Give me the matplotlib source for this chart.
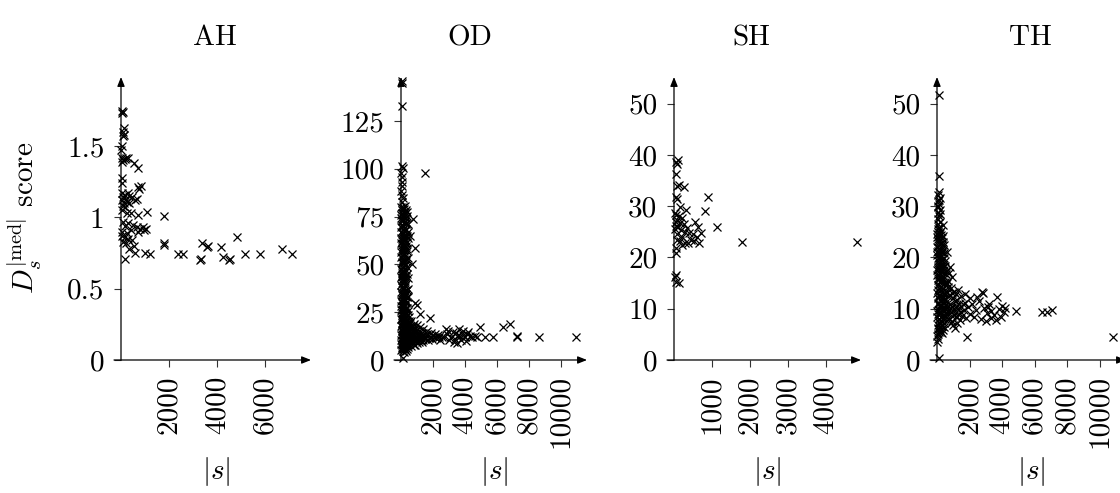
import numpy as np
import matplotlib
matplotlib.use('Agg')
import matplotlib.pyplot as plt

plt.rcParams['font.family'] = 'cmr10'
plt.rcParams['mathtext.fontset'] = 'cm'
plt.rcParams['axes.unicode_minus'] = False
plt.rcParams['axes.formatter.use_mathtext'] = True

# --- data (|s|, score) ---
ah_points = [
    (30, 1.75), (50, 1.73), (70, 1.74), (110, 1.63), (90, 1.60), (130, 1.58), (70, 1.57),
    (40, 1.50), (20, 1.47), (40, 1.42), (100, 1.40), (160, 1.41), (220, 1.42), (290, 1.42),
    (60, 1.39), (540, 1.38), (720, 1.35), (60, 1.28), (30, 1.24), (820, 1.22), (760, 1.20),
    (720, 1.21), (60, 1.17), (150, 1.16), (280, 1.17), (330, 1.15), (100, 1.14), (200, 1.13),
    (450, 1.14), (680, 1.13), (40, 1.12), (250, 1.11), (120, 1.10), (350, 1.10), (80, 1.08),
    (180, 1.07), (600, 1.12), (1100, 1.04), (420, 1.03), (700, 1.02), (1790, 1.01), (60, 1.05),
    (250, 1.03), (100, 0.97), (300, 0.96), (500, 0.95), (650, 0.93), (800, 0.92), (900, 0.93),
    (1050, 0.92), (150, 0.94), (400, 0.91), (60, 0.90), (700, 0.90), (950, 0.91), (250, 0.89),
    (50, 0.87), (150, 0.86), (300, 0.85), (450, 0.84), (80, 0.83), (200, 0.82), (550, 0.80),
    (350, 0.78), (1790, 0.82), (1780, 0.81), (170, 0.71), (600, 0.75), (1000, 0.75),
    (1200, 0.74), (2350, 0.74), (2580, 0.74), (3300, 0.70), (3320, 0.71), (3380, 0.82),
    (3600, 0.80), (3580, 0.79), (4160, 0.79), (4230, 0.72), (4480, 0.70), (4520, 0.71),
    (4820, 0.86), (5150, 0.74), (5800, 0.74), (6700, 0.78), (7100, 0.74),
]

od_upper = [
    (60, 146), (40, 145), (80, 133), (50, 101.5), (110, 100.5), (30, 98), (70, 95.5), (40, 93),
    (90, 91), (30, 88.5), (60, 86.5), (100, 84.5), (40, 82.5), (1500, 98), (750, 74), (560, 65),
    (875, 58.5), (670, 50), (875, 30), (1000, 29), (1190, 24), (1810, 22), (130, 1.0),
]
od_column = [
    (20, 80.2), (160, 79.1), (300, 78.3), (70, 77.0), (230, 76.2), (380, 75.4), (10, 74.1),
    (130, 73.3), (270, 72.0), (420, 71.2), (60, 70.4), (200, 69.1), (340, 68.5), (30, 67.2),
    (150, 66.1), (290, 65.3), (440, 64.0), (90, 63.2), (240, 62.5), (20, 61.1), (170, 60.4),
    (320, 59.6), (60, 58.2), (210, 57.5), (400, 56.8), (110, 55.3), (260, 54.6), (10, 53.9),
    (160, 52.7), (330, 51.8), (70, 50.9), (220, 49.6), (380, 48.7), (30, 47.8), (140, 46.5),
    (280, 45.9), (90, 44.6), (230, 43.5), (420, 42.8), (40, 41.6), (180, 40.9), (310, 39.7),
    (80, 38.4), (210, 37.6), (360, 36.5), (20, 35.8), (150, 34.6), (270, 33.5), (460, 32.7),
    (70, 31.9), (200, 30.6), (340, 29.8), (30, 28.5), (120, 27.7), (250, 26.9), (420, 25.8),
    (60, 24.6), (180, 23.9), (330, 23.1), (500, 22.4), (10, 21.5), (140, 20.8), (280, 19.9),
    (450, 19.2), (90, 18.5), (220, 17.6), (380, 16.9), (560, 16.3), (40, 15.4), (170, 14.8),
    (310, 13.9), (480, 13.3), (100, 12.6), (250, 11.8), (420, 11.2), (20, 10.4), (190, 9.7),
    (350, 9.1), (520, 8.6), (70, 7.9), (260, 7.2), (430, 6.6), (130, 5.9), (30, 5.3),
    (300, 4.8), (200, 4.2),
]
od_column_fill = [
    (110, 79.8), (350, 77.6), (180, 74.8), (40, 72.7), (310, 70.9), (120, 68.0), (410, 66.7),
    (200, 64.8), (50, 62.0), (360, 61.8), (120, 59.1), (280, 58.0), (30, 56.3), (190, 55.9),
    (420, 53.4), (100, 52.1), (260, 50.4), (150, 48.2), (40, 45.3), (330, 44.1), (120, 42.3),
    (260, 41.2), (10, 39.2), (160, 38.0), (420, 37.3), (90, 35.1), (310, 34.3), (230, 32.0),
    (20, 30.9), (390, 30.3), (170, 28.8), (300, 27.4), (80, 26.3), (230, 25.1), (440, 23.7),
    (110, 22.8), (260, 22.0), (380, 20.4), (50, 19.6), (200, 18.9), (320, 17.9), (500, 17.4),
    (130, 16.5), (280, 15.9), (440, 14.9), (60, 13.8), (220, 13.1), (390, 12.2), (560, 11.9),
    (140, 11.0), (300, 10.3), (470, 9.9), (60, 9.0), (230, 8.4), (390, 7.8), (160, 7.0),
    (40, 6.4), (250, 5.6),
]
od_column_dense = [
    (240, 80.7), (60, 78.6), (260, 77.3), (130, 76.0), (10, 75.6), (300, 74.5), (90, 73.9),
    (220, 72.5), (340, 71.7), (150, 70.0), (20, 69.3), (260, 67.7), (80, 66.5), (370, 65.0),
    (180, 63.7), (10, 63.9), (290, 61.4), (110, 60.9), (240, 59.2), (360, 57.8), (80, 57.0),
    (140, 54.2), (310, 53.0), (40, 51.4), (200, 51.0), (110, 49.3), (310, 47.2), (60, 46.8),
    (200, 45.4), (370, 44.8), (10, 43.6), (150, 43.9), (280, 42.1), (70, 40.2), (230, 39.0),
    (120, 37.0), (270, 36.0), (50, 34.2), (200, 33.8), (380, 33.0), (130, 31.3), (280, 31.0),
    (60, 29.6), (230, 28.2), (350, 27.0), (10, 26.4), (160, 25.9), (300, 24.8), (90, 23.6),
    (220, 23.4), (40, 22.1), (180, 21.4), (330, 21.0), (470, 20.6), (120, 19.8), (250, 19.0),
    (20, 17.8), (150, 17.2), (300, 16.6), (430, 16.0), (90, 15.7), (230, 15.1), (360, 14.4),
    (20, 13.2), (160, 12.9), (290, 12.4), (500, 12.3), (70, 11.4), (210, 10.8), (350, 10.5),
    (100, 9.8), (280, 9.4), (430, 8.9), (10, 8.5), (150, 8.2), (320, 7.5), (90, 6.8),
    (210, 6.2), (350, 5.8), (110, 4.9),
]
od_blob = [
    (650, 20.5), (820, 19.0), (1000, 18.2), (600, 17.1), (900, 16.4), (1200, 17.3), (750, 15.6),
    (1100, 15.0), (1400, 16.1), (1650, 15.4), (700, 14.2), (950, 13.7), (1300, 13.9),
    (1550, 13.2), (1850, 14.1), (2100, 13.5), (800, 12.6), (1050, 12.3), (1250, 11.8),
    (1500, 12.1), (1750, 11.6), (2000, 12.4), (2300, 12.9), (2550, 12.2), (650, 11.1),
    (900, 10.6), (1150, 10.2), (1400, 10.7), (1700, 10.3), (1950, 10.9), (2200, 11.3),
    (2450, 10.5), (700, 9.4), (1000, 8.9), (1300, 9.5), (850, 8.1), (600, 7.5), (790, 8.0),
    (2700, 11.8), (2850, 13.4), (720, 18.0), (600, 13.0), (850, 14.9), (1050, 11.3),
    (620, 9.8), (1200, 13.1), (760, 11.9), (950, 15.5), (680, 16.0), (1150, 9.3),
    (560, 19.2), (700, 12.4), (880, 11.6), (1000, 14.3), (1350, 12.6), (1600, 13.8),
    (1850, 12.0), (580, 15.1), (780, 10.3), (1250, 10.6), (1500, 11.2), (2150, 12.2),
    (540, 11.7), (950, 9.7), (2350, 11.9),
]
od_tail = [
    (2950, 15.3), (3100, 12.1), (3250, 14.6), (3400, 11.2), (3550, 13.3), (3700, 12.4),
    (3850, 15.0), (4000, 11.9), (4150, 13.7), (4300, 12.6), (4450, 11.8), (4600, 12.3),
    (3000, 10.2), (3300, 9.3), (3500, 8.7), (3750, 10.6), (4050, 10.1), (2800, 16.0),
    (3600, 16.4), (4200, 14.8), (4750, 12.1), (3450, 13.9), (3900, 13.0),
    (4940, 17.5), (5250, 12.0), (5750, 12.0), (6400, 17.5), (6800, 19.0), (7250, 12.0),
    (7280, 12.3), (8600, 12.0), (10950, 12.0),
]

sh_points = [
    (50, 38.6), (115, 39.0), (70, 38.3), (40, 36.2), (80, 33.9), (260, 33.8), (130, 34.1),
    (40, 31.8), (70, 31.4), (900, 31.7), (815, 29.1), (145, 29.8), (320, 29.2), (30, 28.6),
    (60, 28.2), (120, 28.0), (200, 27.7), (90, 27.3), (40, 27.0), (160, 26.8), (250, 26.5),
    (60, 26.2), (110, 25.9), (330, 25.8), (20, 25.5), (180, 25.3), (280, 25.0), (400, 24.8),
    (80, 24.6), (550, 27.0), (640, 25.9), (1120, 26.0), (500, 24.5), (700, 24.8), (600, 23.9),
    (450, 23.5), (220, 24.0), (160, 23.3), (300, 22.8), (380, 22.9), (650, 22.8), (520, 23.2),
    (90, 23.4), (200, 22.5), (1800, 23.0), (4820, 23.0), (60, 21.8), (40, 20.9), (50, 16.6),
    (60, 15.3), (120, 15.0), (30, 16.2),
]

th_upper = [
    (120, 51.7), (100, 35.9), (150, 32.7), (60, 32.2), (200, 31.6), (80, 31.0), (120, 30.4),
    (40, 29.9), (180, 29.3), (90, 28.7), (150, 28.1), (40, 27.5), (200, 27.0), (370, 26.3),
    (100, 26.0), (60, 25.5), (230, 25.1), (600, 21.1), (130, 31.3), (60, 30.0), (170, 28.4),
    (50, 26.6), (140, 25.8),
]
th_column = [
    (20, 24.6), (150, 24.2), (300, 23.8), (80, 23.3), (220, 22.9), (400, 22.5), (30, 22.0),
    (170, 21.6), (320, 21.1), (100, 20.7), (250, 20.3), (450, 19.9), (40, 19.4), (190, 19.0),
    (350, 18.6), (520, 18.3), (90, 17.8), (260, 17.4), (420, 17.0), (20, 16.5), (160, 16.1),
    (310, 15.7), (480, 15.3), (630, 15.0), (70, 14.6), (230, 14.2), (390, 13.8), (550, 13.5),
    (10, 13.0), (150, 12.7), (300, 12.3), (460, 11.9), (620, 11.6), (80, 11.2), (240, 10.8),
    (400, 10.4), (570, 10.0), (30, 9.6), (180, 9.2), (340, 8.8), (500, 8.5), (100, 8.0),
    (270, 7.6), (430, 7.2), (50, 6.8), (200, 6.3), (360, 5.9), (130, 5.4), (20, 4.6),
    (60, 4.1), (30, 3.5), (100, 0.4), (800, 18.2), (750, 17.0), (900, 16.1), (700, 15.4),
]
th_column_fill = [
    (90, 24.9), (250, 24.4), (40, 23.6), (350, 23.1), (150, 22.6), (60, 21.3), (260, 21.9),
    (420, 20.9), (170, 20.1), (30, 20.4), (320, 19.5), (120, 18.8), (280, 18.0), (50, 18.1),
    (460, 17.6), (200, 16.8), (360, 16.4), (90, 15.9), (560, 16.7), (240, 15.2), (410, 14.8),
    (130, 14.0), (680, 14.3), (310, 13.3), (460, 12.9), (60, 12.1), (220, 11.8), (380, 11.3),
    (700, 12.5), (160, 10.3), (500, 10.7), (300, 9.9), (80, 9.0), (430, 9.5), (620, 9.2),
    (230, 8.3), (380, 8.0), (160, 7.1), (330, 6.7), (90, 6.0), (250, 5.4), (60, 5.1),
]
th_column_dense = [
    (200, 24.7), (10, 24.0), (360, 24.1), (110, 23.0), (280, 22.4), (10, 21.0), (200, 21.2),
    (380, 21.5), (70, 19.9), (220, 19.6), (500, 19.3), (150, 18.3), (380, 18.1), (10, 17.5),
    (310, 17.1), (130, 16.6), (600, 17.3), (40, 15.6), (180, 15.5), (350, 15.2), (530, 14.6),
    (80, 13.7), (260, 13.6), (420, 13.0), (600, 13.1), (110, 12.4), (330, 11.9), (520, 11.8),
    (40, 11.0), (200, 10.8), (460, 10.2), (650, 10.6), (120, 9.7), (260, 9.4), (540, 9.0),
    (20, 8.4), (310, 8.5), (480, 7.9), (120, 7.4), (280, 6.9), (420, 6.5), (40, 6.2),
    (180, 5.8), (310, 5.3),
]
th_blob = [
    (850, 14.0), (1050, 13.2), (1300, 13.6), (1000, 12.1), (1250, 11.7), (1500, 12.4),
    (1750, 11.2), (800, 11.0), (950, 10.3), (1150, 10.6), (1400, 10.1), (1650, 9.8),
    (1900, 10.4), (2150, 10.9), (2400, 9.7), (850, 9.4), (1050, 8.8), (1300, 9.0), (1550, 8.5),
    (1800, 8.2), (2050, 8.9), (950, 7.6), (1200, 7.2), (750, 8.0), (1000, 6.8), (1400, 7.8),
    (2300, 8.4), (1700, 12.8), (2000, 12.0), (1100, 6.2), (800, 12.6), (900, 8.5),
    (1150, 12.9), (750, 9.8), (1200, 9.9), (1600, 11.0), (900, 13.1), (1100, 11.6),
    (1350, 10.9), (800, 10.2), (1000, 9.5), (1250, 8.3), (1500, 9.3), (850, 7.2),
]
th_tail = [
    (2750, 13.3), (2800, 13.1), (2600, 11.5), (2900, 10.2), (3050, 9.1), (3200, 11.0),
    (3350, 9.6), (3500, 8.7), (3670, 12.2), (3800, 9.9), (3950, 8.4), (4100, 9.3),
    (4190, 10.1), (2700, 8.0), (3000, 7.6), (3300, 8.1), (3600, 7.8), (4000, 10.6),
    (3150, 10.3), (2450, 12.3), (4860, 9.6), (6440, 9.4), (6750, 9.4), (7060, 9.7),
    (1830, 4.5), (10820, 4.5),
]

names = ['AH', 'OD', 'SH', 'TH']
all_points = [
    ah_points,
    od_upper + od_column + od_column_fill + od_column_dense + od_blob + od_tail,
    sh_points,
    th_upper + th_column + th_column_fill + th_column_dense + th_blob + th_tail,
]
x_limits = [7900, 11625, 4920, 11630]
y_limits = [1.985, 148, 55.2, 55.2]
x_ticks = [[2000, 4000, 6000], [2000, 4000, 6000, 8000, 10000],
           [1000, 2000, 3000, 4000], [2000, 4000, 6000, 8000, 10000]]
y_ticks = [[0, 0.5, 1, 1.5], [0, 25, 50, 75, 100, 125],
           [0, 10, 20, 30, 40, 50], [0, 10, 20, 30, 40, 50]]
y_tick_labels = [['0', '0.5', '1', '1.5'], None, None, None]

# pixel layout of the reference (1120 x 493)
W, H = 1120, 493
axes_px = [(121, 190), (401, 186), (674, 187), (937, 189)]
title_px = [215, 470, 751, 1030]
ax_bottom, ax_height = 133, 283

fig = plt.figure(figsize=(11.2, 4.93), dpi=100)
fs = 21

for i, name in enumerate(names):
    left, width = axes_px[i]
    ax = fig.add_axes([left / W, ax_bottom / H, width / W, ax_height / H])
    pts = np.array(all_points[i], dtype=float)
    ax.plot(pts[:, 0], pts[:, 1], 'x', color='black', ms=6, mew=0.9, clip_on=False)

    ax.set_xlim(0, x_limits[i])
    ax.set_ylim(0, y_limits[i])
    for s in ax.spines.values():
        s.set_visible(False)

    arrow = dict(arrowstyle='-|>,head_length=0.55,head_width=0.22', lw=0.9,
                 color='black', shrinkA=0, shrinkB=0, mutation_scale=10)
    ax.annotate('', xy=(0, 1), xytext=(0, 0), xycoords='axes fraction', arrowprops=arrow)
    ax.annotate('', xy=(1, 0), xytext=(-7 / width, 0), xycoords='axes fraction',
                arrowprops=arrow)

    ax.set_xticks(x_ticks[i], [str(v) for v in x_ticks[i]], rotation=90, fontsize=fs)
    labels = y_tick_labels[i] or [str(v) for v in y_ticks[i]]
    ax.set_yticks(y_ticks[i], labels, fontsize=fs)
    ax.tick_params(axis='both', direction='out', length=5, width=0.8, color='#333333')
    ax.tick_params(axis='y', pad=7)
    ax.tick_params(axis='x', pad=6)

    fig.text(title_px[i] / W, 1 - 38 / H, name, ha='center', va='center', fontsize=fs)
    ax.text(0.5, -(472 - 360) / ax_height, '$|s|$', transform=ax.transAxes,
            ha='center', va='center', fontsize=fs)

fig.text(25 / W, 1 - 218 / H, r'$D_s^{|\mathrm{med}|}$ score', rotation=90,
         ha='center', va='center', fontsize=fs)

plt.savefig('out.png', dpi=100)
